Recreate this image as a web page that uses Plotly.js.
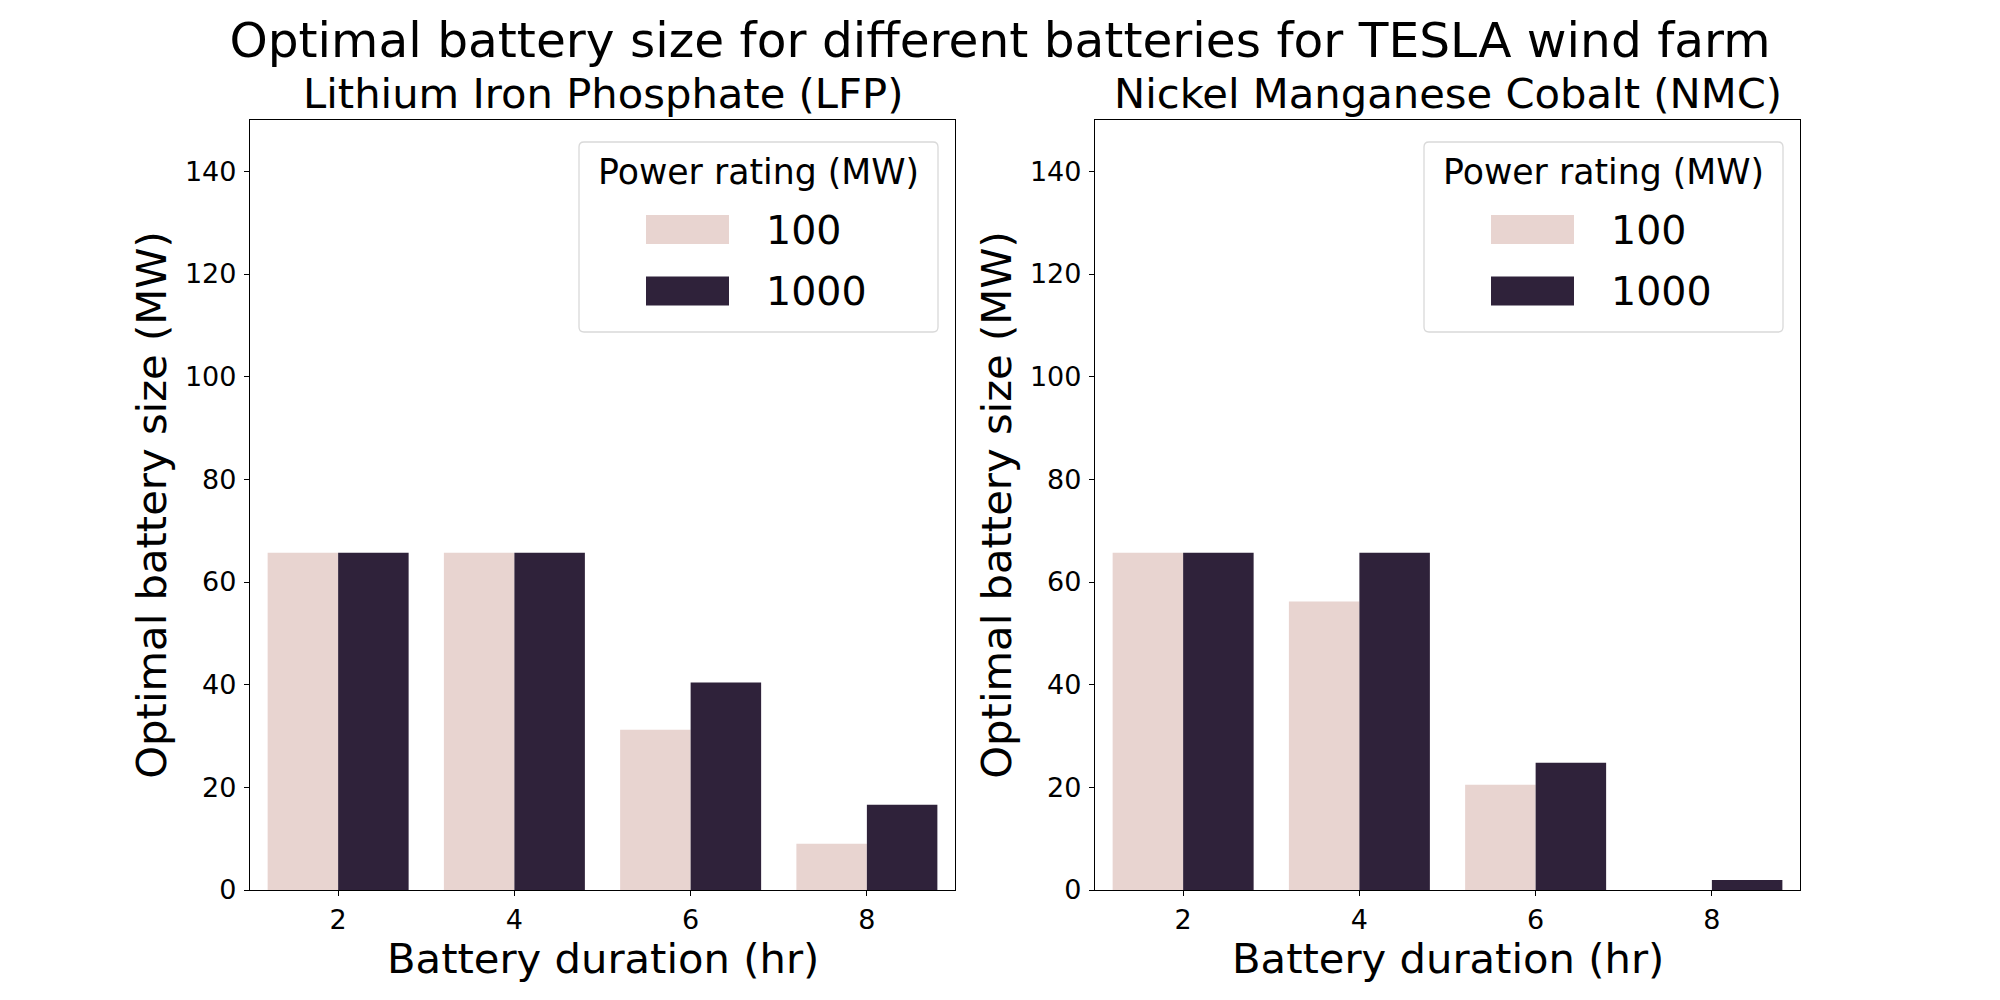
<!DOCTYPE html>
<html>
<head>
<meta charset="utf-8">
<script src="https://cdn.plot.ly/plotly-3.0.1.min.js"></script>
<style>
  html, body { margin: 0; padding: 0; background: #fff; }
  #chart { width: 2000px; height: 1000px; }
</style>
</head>
<body>
<div id="chart"></div>
<script>
// battery durations (hr)
var durations = ['2', '4', '6', '8'];
var ratings = ['100', '1000'];
var ratingColors = ['#e8d4d0', '#2f223a'];

// optimal battery size (MW)
var lfp100 = [65.7, 65.7, 31.2, 9.0];
var lfp1000 = [65.7, 65.7, 40.4, 16.6];
var nmc100 = [65.7, 56.2, 20.5, 0];
var nmc1000 = [65.7, 65.7, 24.8, 1.95];

var panelTitles = ['Lithium Iron Phosphate (LFP)', 'Nickel Manganese Cobalt (NMC)'];
var xTitle = 'Battery duration (hr)';
var yTitle = 'Optimal battery size (MW)';
var yTicks = [0, 20, 40, 60, 80, 100, 120, 140];

var FONT = 'DejaVu Sans, Verdana, sans-serif';

// figure geometry in px
var W = 2000, H = 1000;
var M = {l: 250, r: 200, t: 120, b: 110};
var PW = W - M.l - M.r, PH = H - M.t - M.b;
var panelsPx = [[250, 955], [1095, 1800]];

function px2x(X) { return (X - M.l) / PW; }
function px2y(Y) { return (H - M.b - Y) / PH; }

function barTrace(vals, i, axis) {
  return {
    x: durations,
    y: vals,
    name: ratings[i],
    type: 'bar',
    xaxis: 'x' + axis,
    yaxis: 'y' + axis,
    marker: {color: ratingColors[i], line: {width: 0}},
    showlegend: false,
    hoverinfo: 'x+y+name'
  };
}

var data = [
  barTrace(lfp100, 0, ''),
  barTrace(lfp1000, 1, ''),
  barTrace(nmc100, 0, '2'),
  barTrace(nmc1000, 1, '2')
];

function xAxis(dom, anchor) {
  return {
    domain: dom,
    anchor: anchor,
    type: 'category',
    showline: true, mirror: true, linecolor: '#000', linewidth: 1.3,
    ticks: 'outside', ticklen: 5, tickwidth: 1.3, tickcolor: '#000',
    showgrid: false, zeroline: false,
    tickfont: {family: FONT, size: 27, color: '#000'},
    automargin: false
  };
}
function yAxis(anchor) {
  return {
    domain: [0, 1],
    anchor: anchor,
    range: [0, 150],
    tickvals: yTicks,
    showline: true, mirror: true, linecolor: '#000', linewidth: 1.3,
    ticks: 'outside', ticklen: 5, tickwidth: 1.3, tickcolor: '#000',
    ticklabelstandoff: 2,
    showgrid: false, zeroline: false,
    tickfont: {family: FONT, size: 27, color: '#000'},
    title: {text: yTitle, font: {family: FONT, size: 41.7, color: '#000'}, standoff: 5},
    automargin: false
  };
}

var shapes = [];
var annotations = [];

panelsPx.forEach(function (p, k) {
  var R = p[1];
  // subplot title
  annotations.push({
    text: panelTitles[k],
    xref: 'paper', yref: 'paper',
    x: px2x((p[0] + p[1]) / 2), y: 1,
    xanchor: 'center', yanchor: 'bottom', yshift: 1,
    showarrow: false, borderpad: 0,
    font: {family: FONT, size: 41.7, color: '#000'}
  });
  // x axis title
  annotations.push({
    text: xTitle,
    xref: 'paper', yref: 'paper',
    x: px2x((p[0] + p[1]) / 2), y: px2y(958),
    xanchor: 'center', yanchor: 'middle',
    showarrow: false, borderpad: 0,
    font: {family: FONT, size: 41.7, color: '#000'}
  });

  // legend box, upper right of each panel
  var bx0 = R - 376, bx1 = R - 17, by0 = 142, by1 = 332, r = 5;
  var rx = r / PW, ry = r / PH;
  var x0 = px2x(bx0), x1 = px2x(bx1), y0 = px2y(by0), y1 = px2y(by1);
  var path = 'M' + (x0 + rx) + ',' + y0 +
    ' L' + (x1 - rx) + ',' + y0 + ' Q' + x1 + ',' + y0 + ' ' + x1 + ',' + (y0 - ry) +
    ' L' + x1 + ',' + (y1 + ry) + ' Q' + x1 + ',' + y1 + ' ' + (x1 - rx) + ',' + y1 +
    ' L' + (x0 + rx) + ',' + y1 + ' Q' + x0 + ',' + y1 + ' ' + x0 + ',' + (y1 + ry) +
    ' L' + x0 + ',' + (y0 - ry) + ' Q' + x0 + ',' + y0 + ' ' + (x0 + rx) + ',' + y0 + ' Z';
  shapes.push({
    type: 'path', xref: 'paper', yref: 'paper', path: path,
    line: {color: '#d9d9d9', width: 1.3}, fillcolor: 'rgba(255,255,255,0.8)', layer: 'above'
  });
  annotations.push({
    text: 'Power rating (MW)',
    xref: 'paper', yref: 'paper',
    x: px2x((bx0 + bx1) / 2), y: px2y(172),
    xanchor: 'center', yanchor: 'middle', showarrow: false, borderpad: 0,
    font: {family: FONT, size: 34.7, color: '#000'}
  });
  var sw0 = R - 309, sw1 = R - 226;
  var rows = [[215, 244], [276.5, 305.5]];
  ratings.forEach(function (name, i) {
    shapes.push({
      type: 'rect', xref: 'paper', yref: 'paper',
      x0: px2x(sw0), x1: px2x(sw1), y0: px2y(rows[i][0]), y1: px2y(rows[i][1]),
      fillcolor: ratingColors[i], line: {width: 0}, layer: 'above'
    });
    annotations.push({
      text: name,
      xref: 'paper', yref: 'paper',
      x: px2x(R - 190), y: px2y((rows[i][0] + rows[i][1]) / 2),
      xanchor: 'left', yanchor: 'middle', showarrow: false, borderpad: 0,
      font: {family: FONT, size: 39.5, color: '#000'}
    });
  });
});

var layout = {
  width: W, height: H,
  margin: M,
  paper_bgcolor: '#fff', plot_bgcolor: '#fff',
  barmode: 'group', bargap: 0.2, bargroupgap: 0,
  title: {
    text: 'Optimal battery size for different batteries for TESLA wind farm',
    font: {family: FONT, size: 48.6, color: '#000'},
    xref: 'container', yref: 'container',
    x: 0.5, y: 0.96, xanchor: 'center', yanchor: 'middle'
  },
  xaxis: xAxis([px2x(panelsPx[0][0]), px2x(panelsPx[0][1])], 'y'),
  yaxis: yAxis('x'),
  xaxis2: xAxis([px2x(panelsPx[1][0]), px2x(panelsPx[1][1])], 'y2'),
  yaxis2: yAxis('x2'),
  shapes: shapes,
  annotations: annotations,
  showlegend: false
};

var config = {responsive: false, displayModeBar: false};

Plotly.newPlot('chart', data, layout, config);
</script>
</body>
</html>
